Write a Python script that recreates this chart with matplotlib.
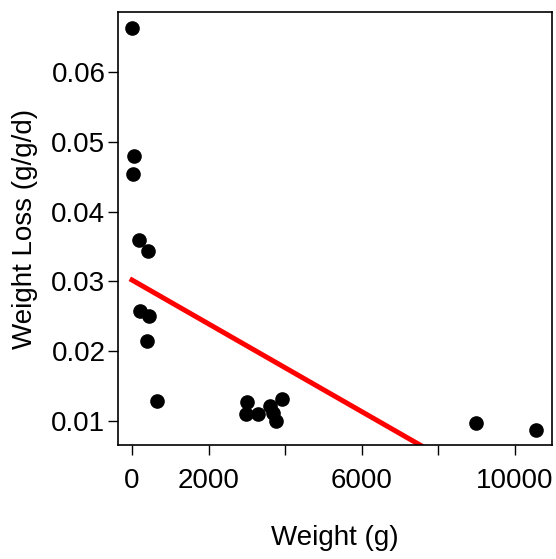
import matplotlib.pyplot as plt
import numpy as np

plt.rcParams['font.family'] = ['Liberation Sans', 'DejaVu Sans']

# data
weight = [0, 50, 25, 180, 420, 210, 440, 390, 650,
          3000, 2980, 3300, 3610, 3690, 3760, 3920,
          8990, 10560]
loss = [0.0663, 0.0480, 0.0454, 0.0359, 0.0344, 0.0258, 0.0250, 0.0215, 0.0129,
        0.0127, 0.0110, 0.0110, 0.0121, 0.0111, 0.0100, 0.0131,
        0.0097, 0.0087]

# fitted line (intercept, slope) as drawn
fit_intercept = 0.0302
fit_slope = -3.14e-6

xticks = [0, 2000, 4000, 6000, 8000, 10000]
xticklabels = ['0', '2000', '', '6000', '', '10000']
yticks = [0.01, 0.02, 0.03, 0.04, 0.05, 0.06]

fig = plt.figure(figsize=(5.56, 5.59), dpi=100)
ax = fig.add_axes([118/556, 1-445/559, (552-118)/556, (445-12)/559])

ax.plot(weight, loss, 'o', color='black', markersize=9.5, zorder=3)
xs = np.array([min(weight), max(weight)])
ax.plot(xs, fit_intercept + fit_slope*xs, color='red', linewidth=3.6, zorder=2)

ax.set_xlim(-366, 10980)
ax.set_ylim(0.00656, 0.0686)
ax.set_xticks(xticks)
ax.set_xticklabels(xticklabels)
ax.set_yticks(yticks)
ax.set_yticklabels(['%.2f' % v for v in yticks])
ax.tick_params(direction='out', length=7, width=1, labelsize=20)
ax.tick_params(axis='x', pad=9.4)
ax.tick_params(axis='y', pad=2)
for s in ax.spines.values():
    s.set_linewidth(1.2)

ax.set_xlabel('Weight (g)', fontsize=20)
ax.set_ylabel('Weight Loss (g/g/d)', fontsize=20)
ax.xaxis.set_label_coords(0.5, -0.185)
ax.yaxis.set_label_coords(-0.184, 0.5)

fig.savefig('out.png', dpi=100)
